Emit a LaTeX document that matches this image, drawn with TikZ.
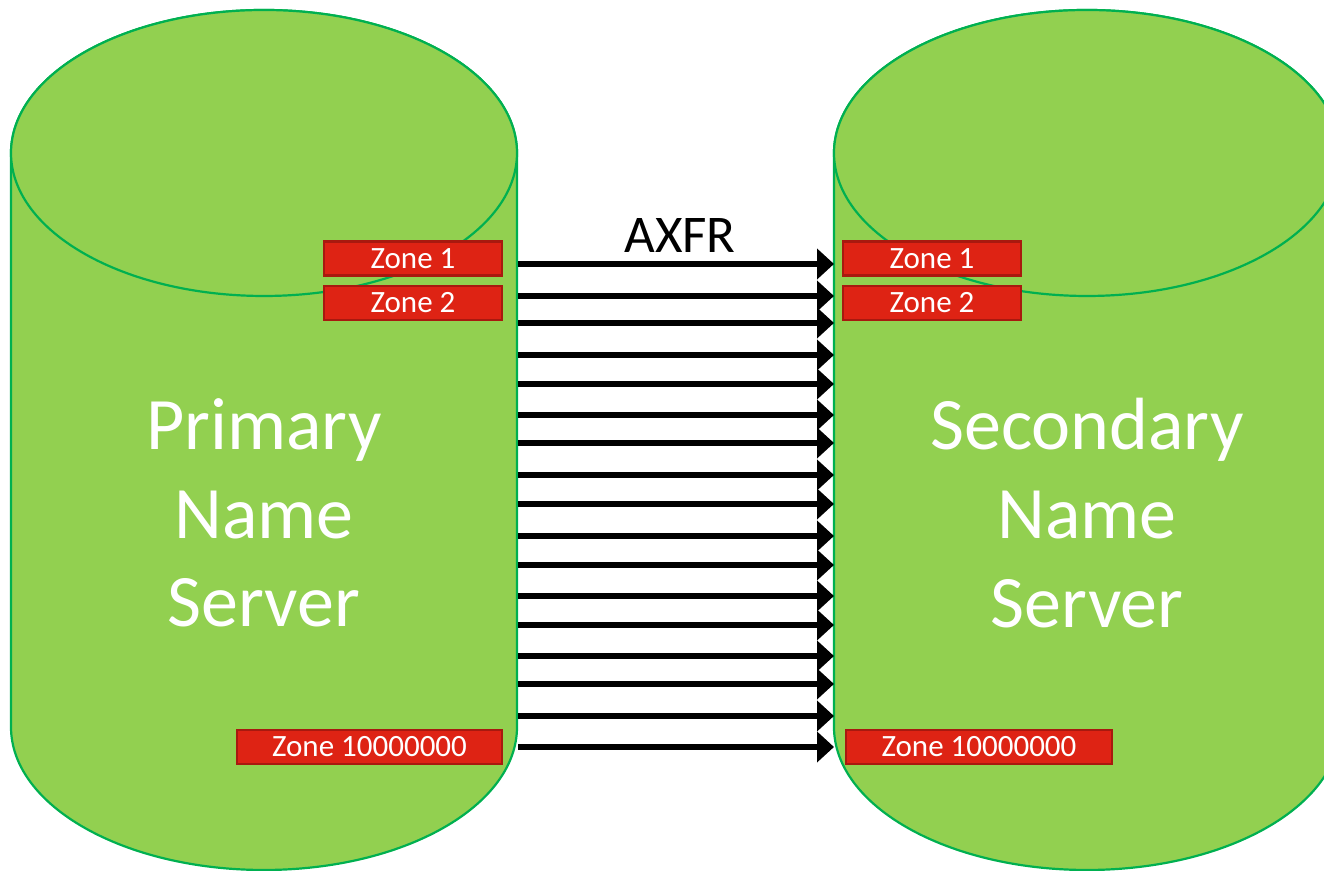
\documentclass[tikz,border=0pt]{standalone}
\usepackage{fontspec}
\setmainfont{Carlito}
\usetikzlibrary{arrows.meta, positioning}

\definecolor{dbfill}{HTML}{92D050}
\definecolor{dbline}{HTML}{00B050}
\definecolor{zonefill}{HTML}{DE2314}
\definecolor{zoneline}{HTML}{A8190F}

\tikzset{
  db/.style={fill=dbfill, draw=dbline, line width=1.1pt},
  zone/.style={fill=zonefill, draw=zoneline, line width=1.1pt, text=white, inner sep=0pt,
    minimum height=17pt, font=\fontsize{15.5}{18}\selectfont},
  srvname/.style={text=white, align=center, font=\fontsize{37}{44.3}\selectfont},
  xfer/.style={line width=2.7pt, -{Triangle[length=8.5pt, width=15pt]}},
}

\begin{document}
\begin{tikzpicture}[x=0.5pt, y=0.5pt]
\useasboundingbox (0,0) rectangle (1324,871);
\clip (0,0) rectangle (1324,871);

% Two databases
\foreach \cx in {264,1087} {
  \path[db] (\cx-253,718) -- (\cx-253,144)
    arc[start angle=180, end angle=360, x radius=253, y radius=143]
    -- (\cx+253,718)
    arc[start angle=0, end angle=180, x radius=253, y radius=143] -- cycle;
  \draw[db] (\cx,718) ellipse[x radius=253, y radius=143];
}
\coordinate (pedge) at (518,0);
\coordinate (sedge) at (834,0);

\node[srvname] (prim) at (264,358) {Primary\\Name\\Server};
\node[srvname] (sec) at (1087,358) {Secondary\\Name\\Server};

% Zones on each side
\node[zone, minimum width=89pt] (pz1) at (413,612.5) {\raisebox{-1pt}{Zone 1}};
\node[zone, minimum width=89pt] (pz2) at (413,568) {\raisebox{-1pt}{Zone 2}};
\node[zone, minimum width=132.5pt] (pzn) at (369.5,124) {\raisebox{-0.5pt}{Zone 10000000}};
\node[zone, minimum width=89pt] (sz1) at (932,612.5) {\raisebox{-1pt}{Zone 1}};
\node[zone, minimum width=89pt] (sz2) at (932,568) {\raisebox{-1pt}{Zone 2}};
\node[zone, minimum width=133pt] (szn) at (979,124) {\raisebox{-0.5pt}{Zone 10000000}};

% Transfers
\foreach \y in {607,575,548,516,487,456,428,396,367,335,306,275,246,215,187,155,124}
  \draw[xfer] (pedge |- 0,\y) -- (sedge |- 0,\y);
\node[anchor=base, font=\fontsize{26.5}{30}\selectfont] (axfr) at (680,618) {AXFR};
\end{tikzpicture}
\end{document}
